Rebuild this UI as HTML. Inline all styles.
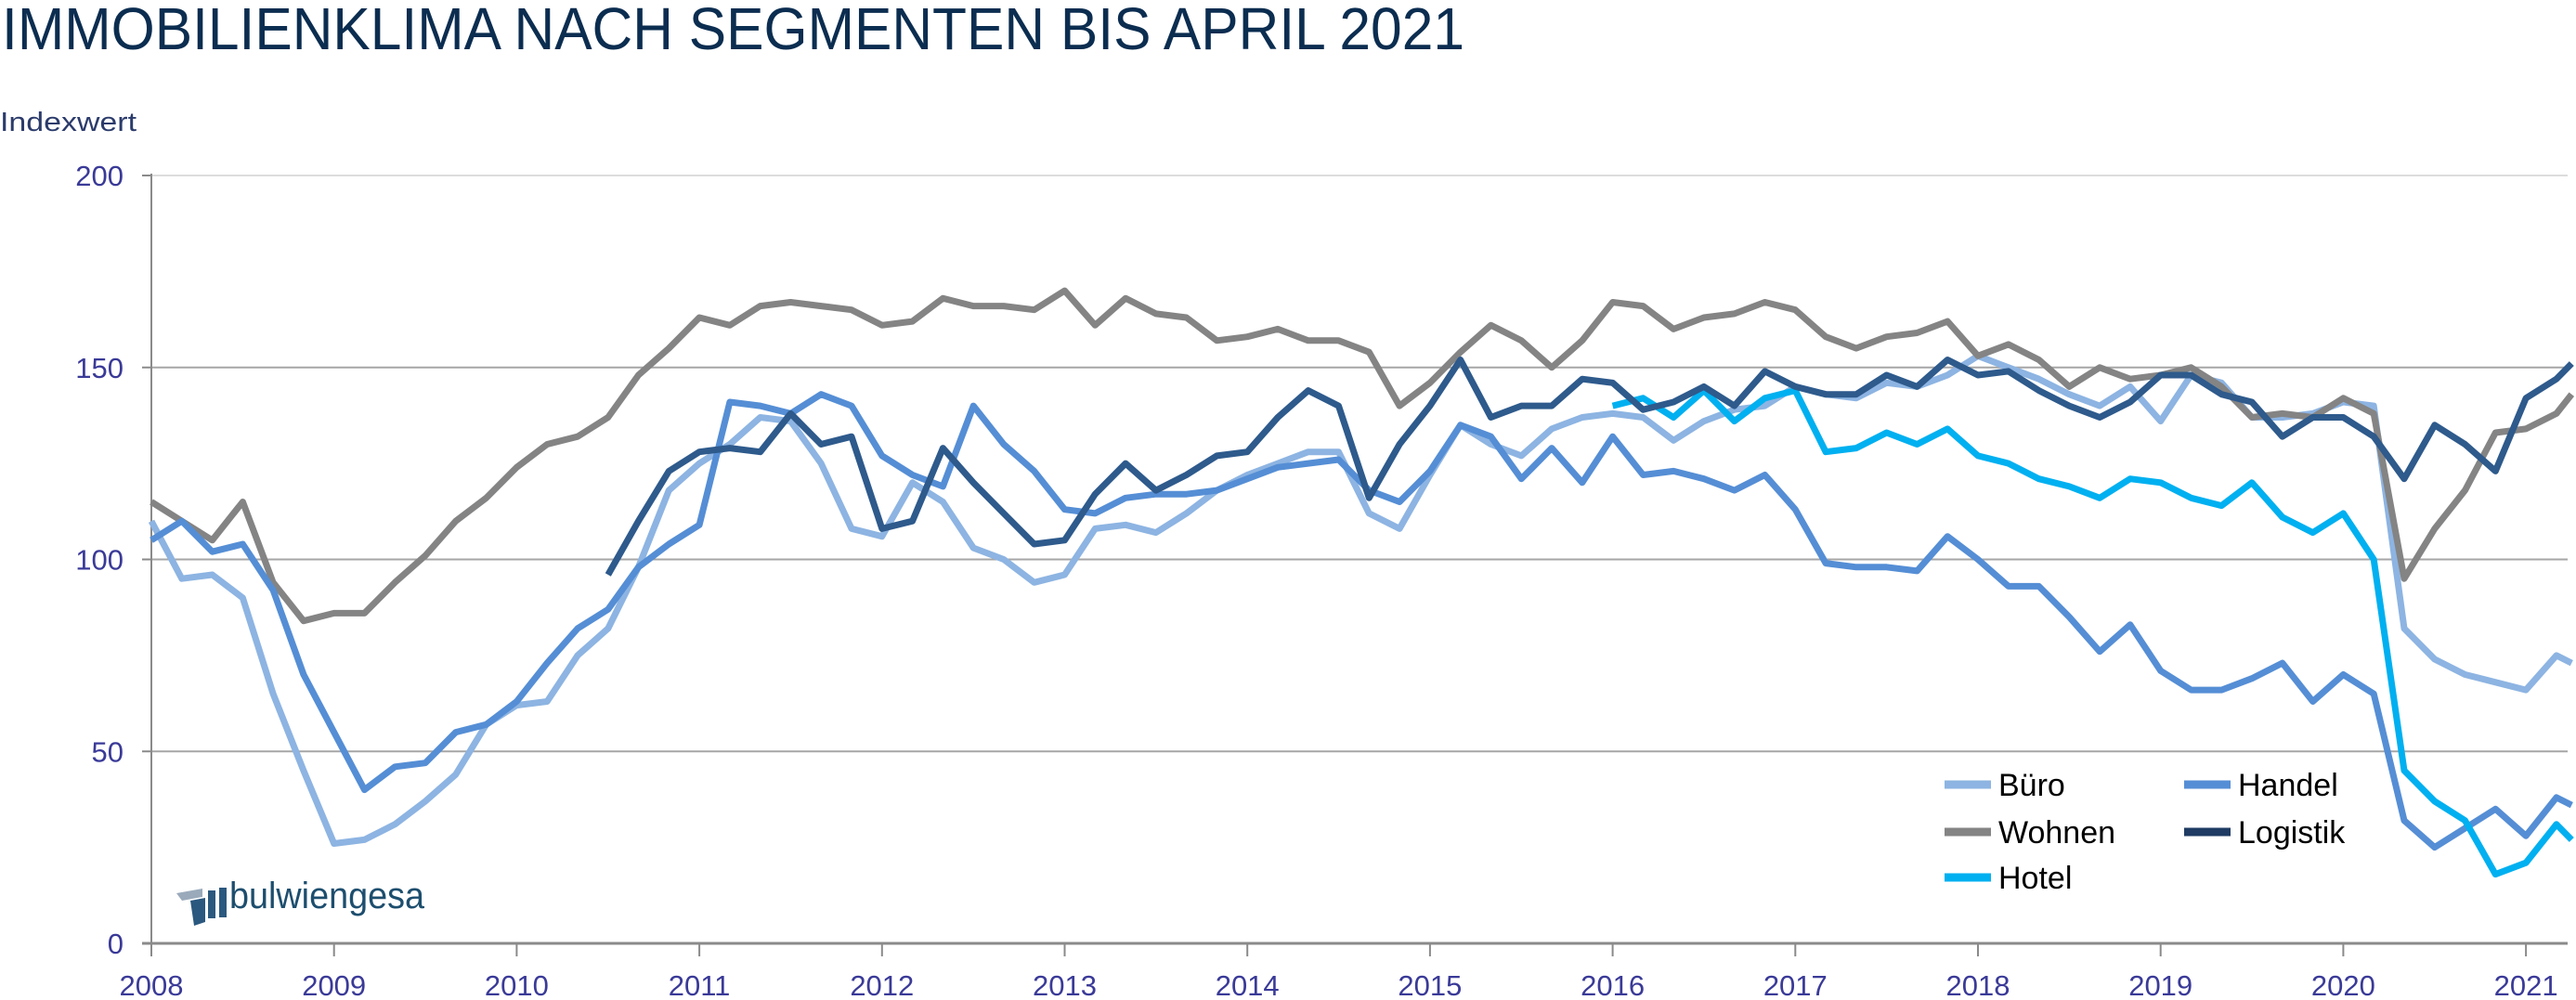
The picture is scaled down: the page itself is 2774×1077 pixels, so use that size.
<!DOCTYPE html>
<html><head><meta charset="utf-8"><style>
html,body{margin:0;padding:0;background:#fff;}
svg{display:block;font-family:"Liberation Sans",sans-serif;}
</style></head><body>
<svg id="chart" width="2774" height="1077" viewBox="0 0 2774 1077" xmlns="http://www.w3.org/2000/svg">
<text x="2" y="53" font-size="64" fill="#0b2d50" textLength="1575" lengthAdjust="spacingAndGlyphs">IMMOBILIENKLIMA NACH SEGMENTEN BIS APRIL 2021</text>
<text x="0" y="141" font-size="29" fill="#2b3b6b" textLength="147" lengthAdjust="spacingAndGlyphs">Indexwert</text>
<g id="grid"></g>
<g id="axes"></g>
<g id="series"></g>
<g id="legend"></g>
<g>
<polygon points="190,962 218,957 218,966 196,970" fill="#9aaabb"/>
<polygon points="205,970 221,967 221,993 209,997" fill="#2b587e"/>
<rect x="224" y="959" width="8" height="30" fill="#2b587e"/>
<rect x="236" y="956" width="8" height="32" fill="#2b587e"/>
<text x="247" y="978" font-size="40" fill="#1d4e6e" textLength="210" lengthAdjust="spacingAndGlyphs">bulwiengesa</text>
</g>
</svg>
<script>
// data (months since Jan 2008)
const buroMonths=[0,2,4,6,8,10,12,14,16,18,20,22,24,26,28,30,32,34,36,38,40,42,44,46,48,50,52,54,56,58,60,62,64,66,68,70,72,74,76,78,80,82,84,86,88,90,92,94,96,98,100,102,104,106,108,110,112,114,116,118,120,122,124,126,128,130,132,134,136,138,140,142,144,146,148,150,152,154,156,158,159];
const buroValues=[110,95,96,90,65,45,26,27,31,37,44,57,62,63,75,82,98,118,125,130,137,136,125,108,106,120,115,103,100,94,96,108,109,107,112,118,122,125,128,128,112,108,122,135,130,127,134,137,138,137,131,136,139,140,145,143,142,146,145,148,153,150,147,143,140,145,136,148,146,137,137,138,141,140,82,74,70,68,66,75,73];
const handelMonths=buroMonths;
const handelValues=[105,110,102,104,92,70,55,40,46,47,55,57,63,73,82,87,98,104,109,141,140,138,143,140,127,122,119,140,130,123,113,112,116,117,117,118,121,124,125,126,118,115,123,135,132,121,129,120,132,122,123,121,118,122,113,99,98,98,97,106,100,93,93,85,76,83,71,66,66,69,73,63,70,65,32,25,30,35,28,38,36];
const wohnenMonths=buroMonths;
const wohnenValues=[115,110,105,115,94,84,86,86,94,101,110,116,124,130,132,137,148,155,163,161,166,167,166,165,161,162,168,166,166,165,170,161,168,164,163,157,158,160,157,157,154,140,146,154,161,157,150,157,167,166,160,163,164,167,165,158,155,158,159,162,153,156,152,145,150,147,148,150,145,137,138,137,142,138,95,108,118,133,134,138,143];
const logistikMonths=[30,32,34,36,38,40,42,44,46,48,50,52,54,56,58,60,62,64,66,68,70,72,74,76,78,80,82,84,86,88,90,92,94,96,98,100,102,104,106,108,110,112,114,116,118,120,122,124,126,128,130,132,134,136,138,140,142,144,146,148,150,152,154,156,158,159];
const logistikValues=[96,110,123,128,129,128,138,130,132,108,110,129,120,112,104,105,117,125,118,122,127,128,137,144,140,116,130,140,152,137,140,140,147,146,139,141,145,140,149,145,143,143,148,145,152,148,149,144,140,137,141,148,148,143,141,132,137,137,132,121,135,130,123,142,147,151];
const hotelMonths=[96,98,100,102,104,106,108,110,112,114,116,118,120,122,124,126,128,130,132,134,136,138,140,142,144,146,148,150,152,154,156,158,159];
const hotelValues=[140,142,137,144,136,142,144,128,129,133,130,134,127,125,121,119,116,121,120,116,114,120,111,107,112,100,45,37,32,18,21,31,27];
const yTicks=[0,50,100,150,200];
const xTickYears=[2008,2009,2010,2011,2012,2013,2014,2015,2016,2017,2018,2019,2020,2021];

const NS="http://www.w3.org/2000/svg";
const X0=163, YEARW=196.7, Y0=1016, YPER=827/200, XEND=2765;
const xScale=m=>X0+m/12*YEARW;
const yScale=v=>Y0-v*YPER;
function mk(tag,attrs,parent){const e=document.createElementNS(NS,tag);for(const k in attrs)e.setAttribute(k,attrs[k]);parent.appendChild(e);return e;}
const grid=document.getElementById('grid'),axes=document.getElementById('axes'),ser=document.getElementById('series'),leg=document.getElementById('legend');

yTicks.forEach(v=>{
  const y=yScale(v);
  if(v>0){const l=mk('line',{x1:X0,x2:XEND,y1:y,y2:y,stroke:v===200?'#dcdcdc':'#a6a6a6','stroke-width':2},grid);
  
  }
  mk('line',{x1:X0-10,x2:X0,y1:y,y2:y,stroke:'#8a8a8a','stroke-width':2},axes);
  const t=mk('text',{x:X0-30,y:y+11,'font-size':31,fill:'#3a3a98','text-anchor':'end'},axes);
  t.textContent=v;
  
  
});
mk('line',{x1:X0,x2:X0,y1:yScale(200)-2,y2:Y0,stroke:'#8a8a8a','stroke-width':2},axes);
mk('line',{x1:X0-10,x2:XEND,y1:Y0,y2:Y0,stroke:'#8a8a8a','stroke-width':3},axes);
xTickYears.forEach(yr=>{
  const x=xScale((yr-2008)*12);
  mk('line',{x1:x,x2:x,y1:Y0,y2:Y0+14,stroke:'#8a8a8a','stroke-width':2},axes);
  const t=mk('text',{x:x,y:1072,'font-size':31,fill:'#3a3a98','text-anchor':'middle'},axes);
  t.textContent=yr;
  
  
});

const seriesList=[
  ['buro',buroMonths,buroValues,'#8db4e2'],
  ['wohnen',wohnenMonths,wohnenValues,'#848484'],
  ['handel',handelMonths,handelValues,'#558ed5'],
  ['hotel',hotelMonths,hotelValues,'#00b0f0'],
  ['logistik',logistikMonths,logistikValues,'#2e5a8c']
];
seriesList.forEach(([n,ms,vs,c])=>{
  const pts=ms.map((m,i)=>xScale(m).toFixed(1)+','+yScale(vs[i]).toFixed(1)).join(' ');
  const p=mk('polyline',{points:pts,fill:'none',stroke:c,'stroke-width':7,'stroke-linejoin':'round'},ser);
  
  
});

const legendItems=[['Büro','#8db4e2',2094,845],['Wohnen','#848484',2094,896],['Hotel','#00b0f0',2094,945],['Handel','#558ed5',2352,845],['Logistik','#1f3b63',2352,896]];
legendItems.forEach(([name,c,x,y])=>{
  const g=mk('g',{},leg);
  
  
  mk('line',{x1:x,x2:x+50,y1:y,y2:y,stroke:c,'stroke-width':9},g);
  const t=mk('text',{x:x+58,y:y+12,'font-size':34,fill:'#000'},g);
  t.textContent=name;
});
</script>
</body></html>
